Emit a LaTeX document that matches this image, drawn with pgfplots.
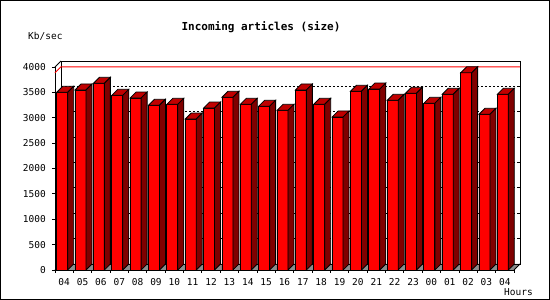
\documentclass[border=0pt]{standalone}
\usepackage{fontspec}
\usepackage{pgfplots}
\pgfplotsset{compat=1.18}
\usepackage{pgfplotstable}
\newfontfamily\labfont{DejaVu Sans Mono}
\definecolor{barfront}{HTML}{FF0000}
\definecolor{barside}{HTML}{800000}
\definecolor{bartop}{HTML}{C00000}
\definecolor{floorgray}{HTML}{8C8C8C}
\pgfdeclareplotmark{nothing}{}

\pgfplotstableread{
x y
0 3502
1 3547
2 3679
3 3442
4 3389
5 3245
6 3265
7 2975
8 3192
9 3403
10 3265
11 3226
12 3146
13 3547
14 3265
15 3015
16 3522
17 3566
18 3343
19 3482
20 3285
21 3462
22 3885
23 3068
24 3462
}\datatable

\begin{document}
\begin{tikzpicture}
\useasboundingbox (0,0) rectangle (550pt,300pt);
\fill[white] (0,0) rectangle (550pt,300pt);
\begin{axis}[
  at={(55pt,30pt)}, anchor=south west,
  scale only axis, width=459pt, height=203pt,
  xmin=-0.5, xmax=24.5, ymin=0, ymax=4000,
  clip=false,
  axis lines=left,
  axis line style={-, line width=0.8pt, black},
  tick align=outside,
  ytick={0,500,...,4000},
  yticklabels={0,500,1000,1500,2000,2500,3000,3500,4000},
  major tick length=3pt,
  minor tick length=3pt,
  tick style={line width=0.8pt, black},
  xtick={0,...,24},
  xticklabels={04,05,06,07,08,09,10,11,12,13,14,15,16,17,18,19,20,21,22,23,00,01,02,03,04},
  minor xtick={-0.5,0.5,...,24.5},
  major x tick style={draw=none},
  ticklabel style={font=\labfont\fontsize{9.5}{10}\selectfont, inner sep=0pt},
  yticklabel style={xshift=-6pt},
  xticklabel style={yshift=-5pt},
]
% floor
\fill[floorgray] (axis cs:-0.5,0) -- (axis cs:24.5,0) -- ([shift={(6pt,6pt)}]axis cs:24.5,0) -- ([shift={(6pt,6pt)}]axis cs:-0.5,0) -- cycle;
% back wall grid
\pgfplotsinvokeforeach{500,1000,...,3500}{
  \draw[black, line width=0.8pt, dash pattern=on 2pt off 2pt] ([shift={(6pt,6pt)}]axis cs:-0.5,#1) -- ([shift={(6pt,6pt)}]axis cs:24.5,#1);
  \draw[black, line width=0.8pt] ([shift={(6pt,6pt)}]axis cs:24.5,#1) -- ++(-3pt,0pt);
}
% back wall frame and side edges
\draw[black, line width=0.8pt] ([shift={(6pt,6pt)}]axis cs:-0.5,0) rectangle ([shift={(6pt,6pt)}]axis cs:24.5,4000);
\draw[black, line width=0.8pt] (axis cs:-0.5,4000) -- ([shift={(6pt,6pt)}]axis cs:-0.5,4000);
\draw[black, line width=0.8pt] (axis cs:-0.5,0) -- ([shift={(6pt,6pt)}]axis cs:-0.5,0);
\draw[black, line width=0.8pt] (axis cs:24.5,0) -- ([shift={(6pt,6pt)}]axis cs:24.5,0);
% max line
\draw[red, line width=0.9pt] (axis cs:-0.5,3885) -- ([shift={(6pt,6pt)}]axis cs:-0.5,3885) -- ([shift={(6pt,6pt)}]axis cs:24.5,3885);
% bars: front faces
\addplot[ybar, bar width=11pt, bar shift=-2pt, fill=barfront, draw=black, line width=0.8pt] table[x=x,y=y]{\datatable};
% bars: top and side faces
\addplot[scatter, only marks, mark=nothing,
  visualization depends on={\thisrow{y} \as \rawy},
  scatter/@pre marker code/.code={%
    \pgfmathsetmacro\hb{6-\rawy/4000*203}%
    \pgfmathsetmacro\hf{-\rawy/4000*203}%
    \filldraw[fill=bartop, draw=black, line width=0.8pt] (-7.5pt,0pt) -- (-1.5pt,6pt) -- (9.5pt,6pt) -- (3.5pt,0pt) -- cycle;
    \filldraw[fill=barside, draw=black, line width=0.8pt] (3.5pt,0pt) -- (9.5pt,6pt) -- (9.5pt,\hb pt) -- (3.5pt,\hf pt) -- cycle;
  },
  scatter/@post marker code/.code={}
] table[x=x,y=y]{\datatable};
\end{axis}
\node[font=\labfont\bfseries\fontsize{11}{12}\selectfont] at (261pt,273pt) {Incoming articles (size)};
\node[anchor=west, inner sep=0pt, font=\labfont\fontsize{9.5}{10}\selectfont] at (28pt,263.3pt) {Kb/sec};
\node[anchor=west, inner sep=0pt, font=\labfont\fontsize{9.5}{10}\selectfont] at (504pt,8.3pt) {Hours};
\draw[black, line width=1pt] (0.5pt,0.5pt) rectangle (549.5pt,299.5pt);
\end{tikzpicture}
\end{document}
